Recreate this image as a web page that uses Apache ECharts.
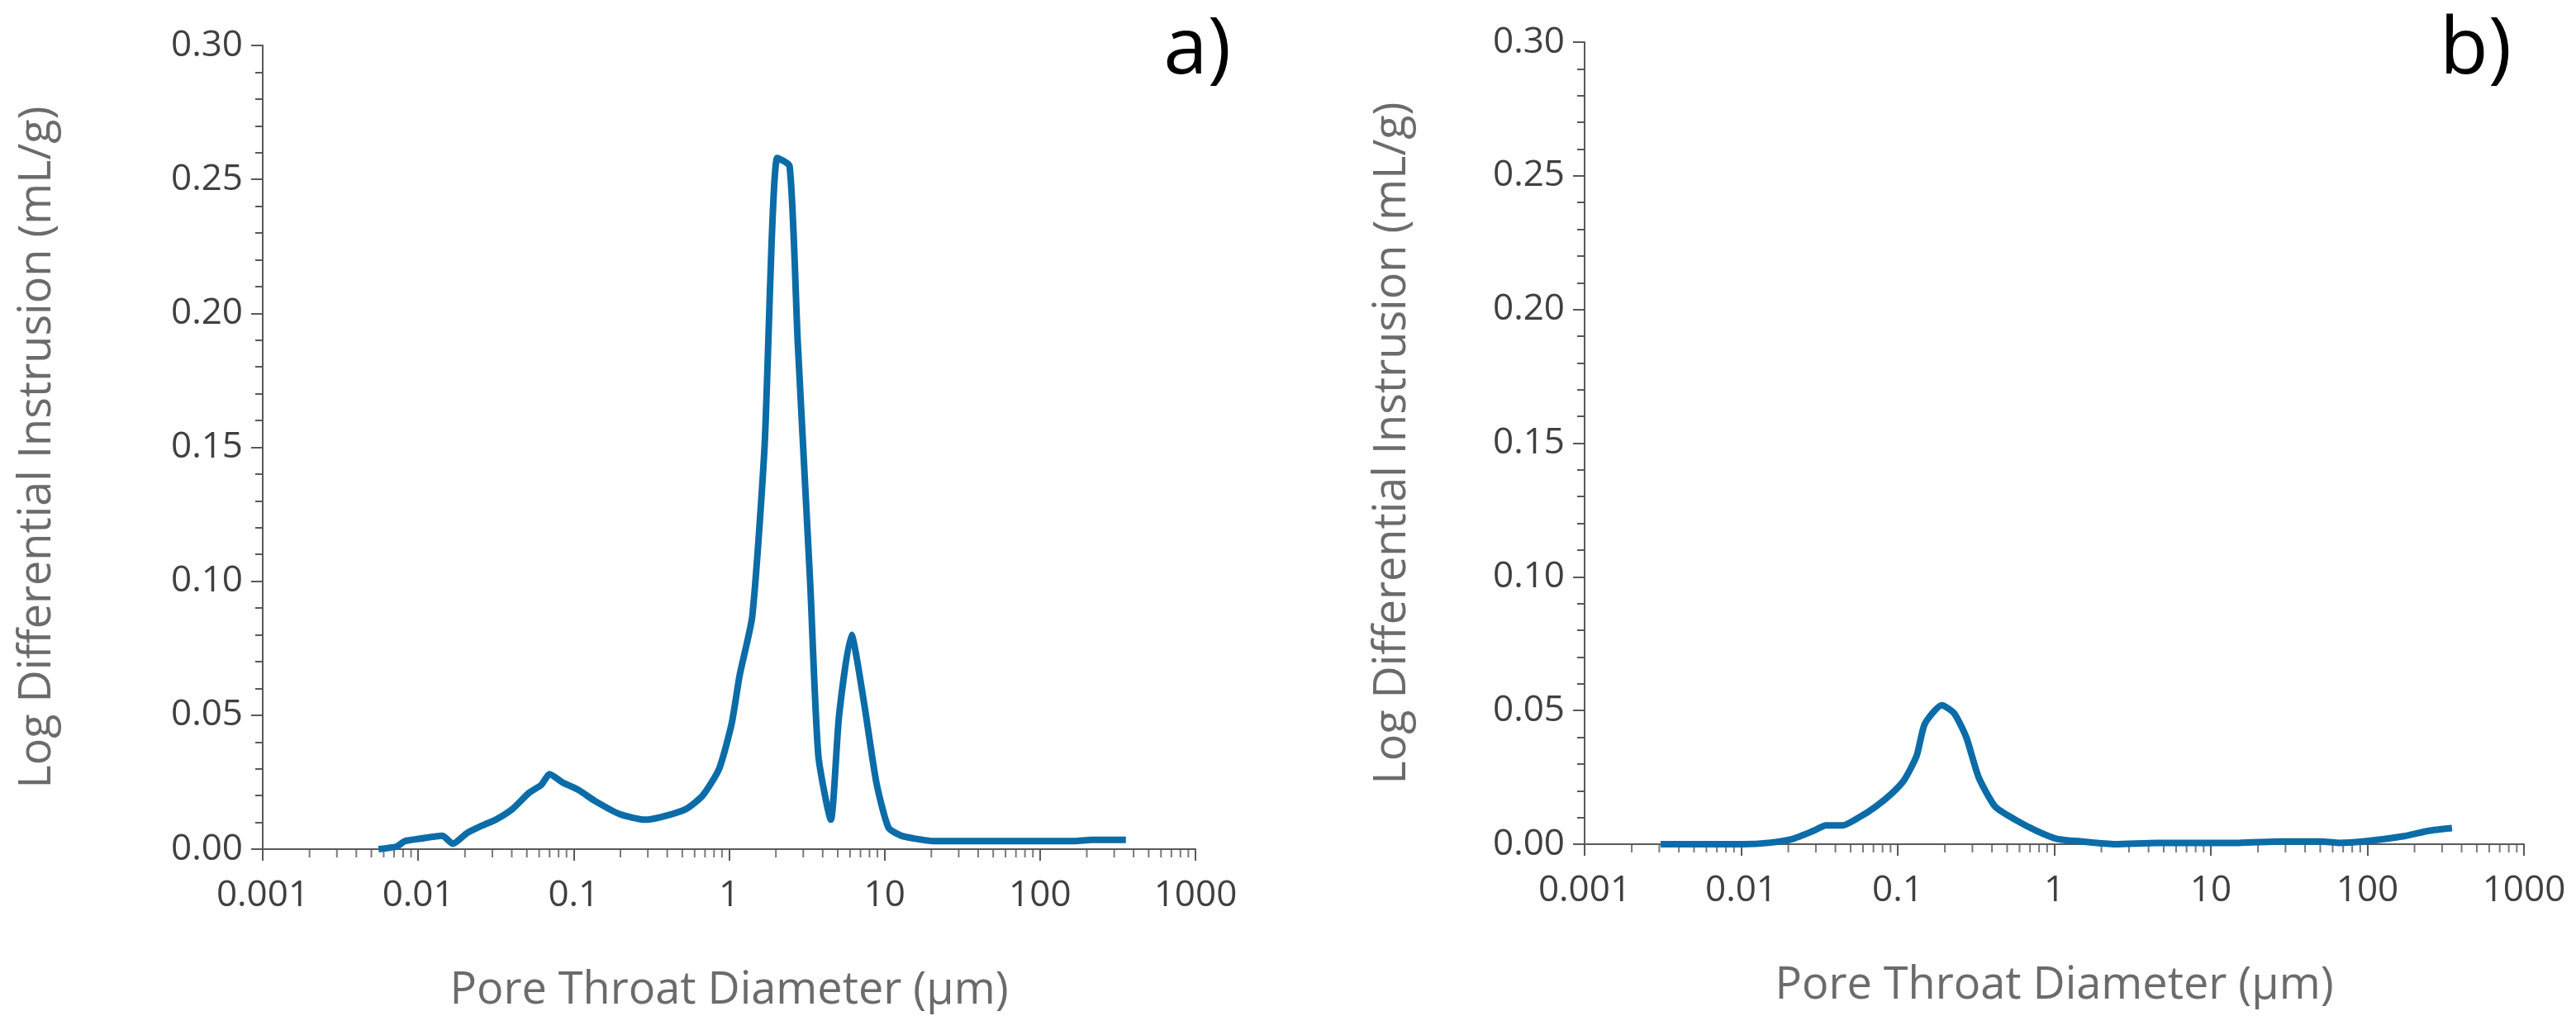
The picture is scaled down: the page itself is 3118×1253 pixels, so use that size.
<!DOCTYPE html>
<html><head><meta charset="utf-8">
<script src="https://cdn.jsdelivr.net/npm/echarts@6/dist/echarts.min.js"></script>
<style>html,body{margin:0;padding:0;background:#fff}#c{width:3118px;height:1253px}</style>
</head><body><div id="c"></div>
<script>
const xA = [0.00556,0.00728,0.00822,0.0105,0.0143,0.0167,0.0206,0.0263,0.0316,0.0404,0.0516,0.062,0.0701,0.0843,0.108,0.137,0.199,0.287,0.366,0.529,0.676,0.863,1.04,1.17,1.41,1.69,2.04,2.45,2.76,3.32,3.75,4.51,5.10,6.12,7.36,8.85,10.6,12.8,15.4,20.8,26.7,49.1,167,214,357];
const yA = [0,0.001,0.003,0.004,0.005,0.002,0.006,0.009,0.011,0.015,0.021,0.024,0.028,0.025,0.022,0.018,0.013,0.011,0.012,0.015,0.020,0.030,0.047,0.065,0.087,0.150,0.258,0.255,0.190,0.100,0.035,0.011,0.050,0.080,0.055,0.025,0.008,0.005,0.004,0.003,0.003,0.003,0.003,0.0035,0.0035];
const xB = [0.00306,0.0103,0.0149,0.0214,0.029,0.0348,0.0443,0.0565,0.0721,0.0918,0.110,0.132,0.149,0.191,0.229,0.274,0.329,0.420,0.569,0.771,1.04,1.50,2.44,4.49,15.1,27.7,50.9,65.0,93.5,172,247,347];
const yB = [0,0,0.0005,0.002,0.005,0.007,0.007,0.010,0.014,0.019,0.024,0.033,0.045,0.052,0.049,0.040,0.025,0.014,0.009,0.005,0.002,0.001,0,0.0005,0.0005,0.001,0.001,0.0005,0.001,0.003,0.005,0.006];
const xTicks = ['0.001','0.01','0.1','1','10','100','1000'];
const panelLabels = ['a)','b)'];

const minorX = [];
for (let e = -3; e < 3; e++) for (let k = 2; k <= 9; k++) minorX.push([k * Math.pow(10, e), 0]);

const gray = '#595959';
const font = 'Open Sans, Liberation Sans, sans-serif';
const grids = [
  {left: 318, top: 55, width: 1129, height: 973},
  {left: 1918, top: 51, width: 1137, height: 971}
];
function xAxis(i) {
  return {
    type: 'log', gridIndex: i, min: 0.001, max: 1000, logBase: 10,
    axisLine: {lineStyle: {color: gray, width: 2}},
    axisTick: {length: 14, lineStyle: {color: gray, width: 2}},
    axisLabel: {color: '#404040', fontSize: 44, fontFamily: font, margin: 34,
      formatter: v => xTicks[Math.round(Math.log10(v)) + 3]},
    splitLine: {show: false},
    name: 'Pore Throat Diameter (\u03bcm)', nameLocation: 'middle', nameGap: 145,
    nameTextStyle: {color: '#6b6b6b', fontSize: 54, fontFamily: font}
  };
}
function yAxis(i) {
  return {
    type: 'value', gridIndex: i, min: 0, max: 0.3, interval: 0.05,
    axisLine: {show: true, lineStyle: {color: gray, width: 2}},
    axisTick: {show: true, length: 14, lineStyle: {color: gray, width: 2}},
    minorTick: {show: true, splitNumber: 5, length: 9, lineStyle: {color: gray, width: 2}},
    axisLabel: {color: '#404040', fontSize: 44, fontFamily: font, margin: 24, formatter: v => v.toFixed(2)},
    splitLine: {show: false},
    name: 'Log Differential Instrusion (mL/g)', nameLocation: 'middle', nameGap: i === 0 ? 245 : 205,
    nameTextStyle: {color: '#6b6b6b', fontSize: 54, fontFamily: font}
  };
}
function line(i, xs, ys) {
  return {type: 'line', xAxisIndex: i, yAxisIndex: i, data: xs.map((x, j) => [x, ys[j]]),
    showSymbol: false, smooth: 0.2, lineStyle: {color: '#0b6ca8', width: 8}, z: 5};
}
function minor(i) {
  return {type: 'scatter', xAxisIndex: i, yAxisIndex: i, data: minorX, silent: true, clip: false,
    symbol: 'rect', symbolSize: [2, 9], symbolOffset: [0, 5.5], itemStyle: {color: gray}};
}
const chart = echarts.init(document.getElementById('c'));
chart.setOption({
  animation: false,
  grid: grids,
  xAxis: [xAxis(0), xAxis(1)],
  yAxis: [yAxis(0), yAxis(1)],
  series: [line(0, xA, yA), line(1, xB, yB), minor(0), minor(1)],
  graphic: [
    {type: 'text', right: 3118 - 1490, top: 14, style: {text: panelLabels[0], fontSize: 96, fill: '#000', fontFamily: font}},
    {type: 'text', right: 3118 - 3040, top: 14, style: {text: panelLabels[1], fontSize: 96, fill: '#000', fontFamily: font}}
  ]
});
</script></body></html>
